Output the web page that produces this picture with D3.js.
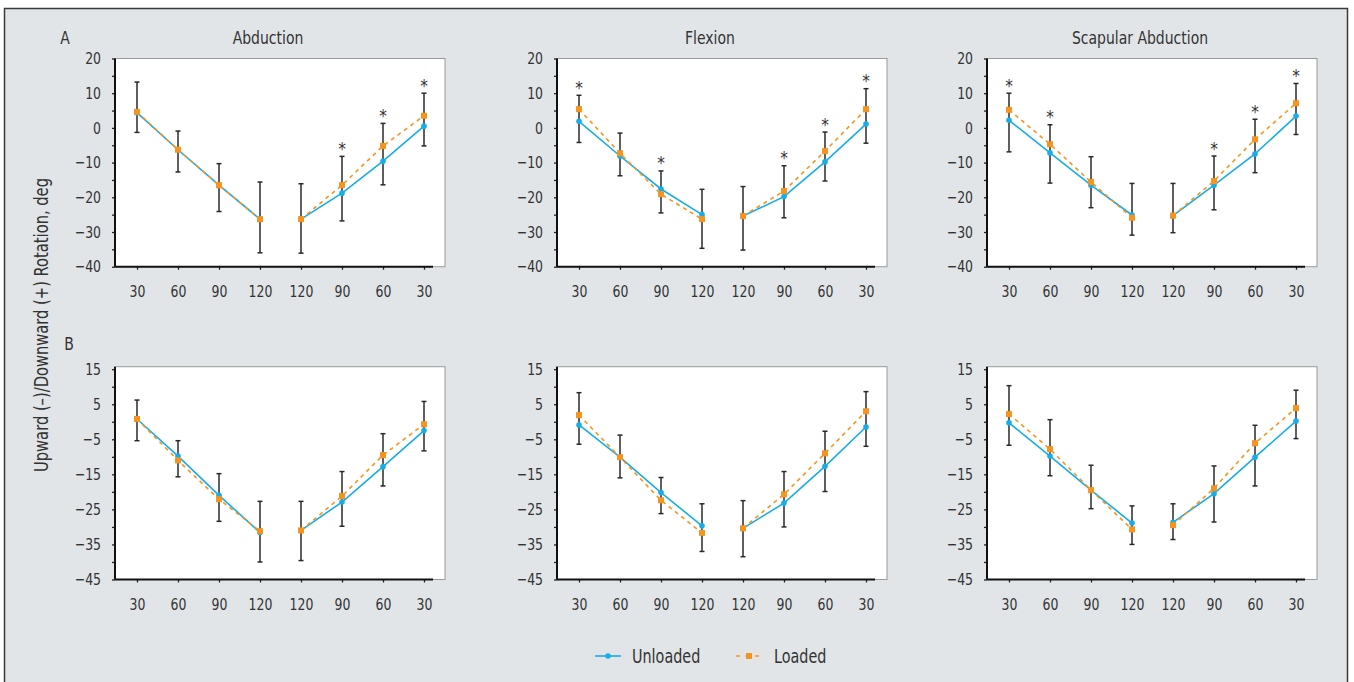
<!DOCTYPE html>
<html>
<head>
<meta charset="utf-8">
<script src="https://cdn.jsdelivr.net/npm/d3@7/dist/d3.min.js"></script>
<style>
  html, body { margin: 0; padding: 0; background: #ffffff; }
  svg { display: block; }
  text { font-family: "DejaVu Sans Condensed", "DejaVu Sans", sans-serif; fill: #333; }
</style>
</head>
<body>
<svg id="chart" width="1354" height="682"></svg>
<script>
// ---------- DATA ----------
const categories = ["30", "60", "90", "120", "120", "90", "60", "30"];
const titles = ["Abduction", "Flexion", "Scapular Abduction"];
const rowLabels = ["A", "B"];
const seriesNames = ["Unloaded", "Loaded"];

const ticksA = [20, 10, 0, -10, -20, -30, -40];
const minorTicksA = [15, 5, -5, -15, -25, -35];
const ticksB = [15, 5, -5, -15, -25, -35, -45];
const minorTicksB = [10, 0, -10, -20, -30, -40];

// Row A – Abduction
const unloadedA1 = [4.4, -6.3, -16.5, -26.3, -26.3, -18.8, -9.6, 0.5];
const loadedA1   = [4.6, -6.3, -16.5, -26.3, -26.3, -16.5, -5.2, 3.5];
const errHighA1  = [13.2, -0.9, -10.3, -15.6, -16.1, -8.2, 1.3, 10];
const errLowA1   = [-1.3, -12.7, -24.1, -36, -36.1, -26.8, -16.4, -5.2];
const starsA1    = [0, 0, 0, 0, 0, 1, 1, 1];
// Row A – Flexion
const unloadedA2 = [1.9, -8.1, -17.6, -25, -25.4, -19.8, -9.8, 1.1];
const loadedA2   = [5.4, -7.3, -19.1, -26.3, -25.4, -18.2, -6.7, 5.4];
const errHighA2  = [9.4, -1.5, -12.4, -17.7, -16.9, -10.9, -1.2, 11.3];
const errLowA2   = [-4.2, -13.8, -24.5, -34.7, -35.2, -25.9, -15.3, -4.4];
const starsA2    = [1, 0, 1, 0, 0, 1, 1, 1];
// Row A – Scapular Abduction
const unloadedA3 = [2.2, -7.2, -16.5, -25.1, -25.3, -16.5, -7.5, 3.4];
const loadedA3   = [5.2, -4.7, -15.6, -25.9, -25.3, -15.3, -3.3, 7.1];
const errHighA3  = [10, 0.9, -8.3, -16, -16, -8.1, 2.5, 12.8];
const errLowA3   = [-6.9, -15.9, -23, -30.9, -30.2, -23.6, -12.9, -1.9];
const starsA3    = [1, 1, 0, 0, 0, 1, 1, 1];
// Row B – Abduction
const unloadedB1 = [0.8, -9.8, -21, -31.6, -31, -22.9, -12.8, -2.5];
const loadedB1   = [0.8, -11, -22.1, -31.2, -31, -21.2, -9.5, -0.7];
const errHighB1  = [6.2, -5.4, -14.8, -22.7, -22.7, -14.2, -3.4, 5.8];
const errLowB1   = [-5.4, -15.7, -28.4, -40, -39.6, -29.8, -18.3, -8.3];
const starsB1    = [0, 0, 0, 0, 0, 0, 0, 0];
// Row B – Flexion
const unloadedB2 = [-0.9, -10.1, -20.2, -29.7, -30.4, -23.2, -12.7, -1.5];
const loadedB2   = [1.9, -10.1, -22.4, -31.7, -30.4, -20.7, -9, 3];
const errHighB2  = [8.3, -3.8, -15.9, -23.4, -22.5, -14.2, -2.7, 8.6];
const errLowB2   = [-6.4, -16, -26.2, -37, -38.5, -30, -19.9, -7];
const starsB2    = [0, 0, 0, 0, 0, 0, 0, 0];
// Row B – Scapular Abduction
const unloadedB3 = [-0.3, -9.8, -19.5, -28.9, -28.7, -20.5, -10.1, 0.2];
const loadedB3   = [2.2, -7.8, -19.5, -30.7, -29.5, -19, -6.1, 3.9];
const errHighB3  = [10.3, 0.6, -12.4, -24, -23.4, -12.6, -1, 9];
const errLowB3   = [-6.7, -15.4, -24.8, -35, -33.6, -28.6, -18.3, -4.8];
const starsB3    = [0, 0, 0, 0, 0, 0, 0, 0];

// ---------- LAYOUT / STYLE ----------
const BLUE = "#16ade8";
const ORANGE = "#f7941d";
const BAR = "#2a2a2a";
const panelLefts = [115, 557, 987];
const boxW = 330, axisLen = 318, ptOffset = 22, ptSpan = 287;
const rows = [
  { domain: [-40, 20], range: [266.7, 58.5], boxTop: 58.5, major: ticksA, minor: minorTicksA,
    panels: [
      [unloadedA1, loadedA1, errLowA1, errHighA1, starsA1],
      [unloadedA2, loadedA2, errLowA2, errHighA2, starsA2],
      [unloadedA3, loadedA3, errLowA3, errHighA3, starsA3]] },
  { domain: [-45, 15], range: [579.5, 369.2], boxTop: 366.7, major: ticksB, minor: minorTicksB,
    panels: [
      [unloadedB1, loadedB1, errLowB1, errHighB1, starsB1],
      [unloadedB2, loadedB2, errLowB2, errHighB2, starsB2],
      [unloadedB3, loadedB3, errLowB3, errHighB3, starsB3]] }
];

// condense text horizontally (emulates the narrow typeface of the original)
function condense(sel, k) {
  sel.each(function () {
    const len = this.getComputedTextLength();
    if (len > 0) d3.select(this).attr("textLength", len * k).attr("lengthAdjust", "spacingAndGlyphs");
  });
}
const K = 0.84;

const svg = d3.select("#chart");

// outer frame
svg.append("rect").attr("x", 4.5).attr("y", 8.5).attr("width", 1343).attr("height", 700)
  .attr("fill", "#e1e5e8").attr("stroke", "#3a3a3a").attr("stroke-width", 1.5);

// titles
titles.forEach((t, i) => {
  svg.append("text").attr("class", "lbl").attr("x", panelLefts[i] + boxW / 2 - 12).attr("y", 44)
    .attr("text-anchor", "middle").style("font-size", "18.5px").text(t);
});
svg.append("text").attr("class", "lbl").attr("x", 65).attr("y", 44).attr("text-anchor", "middle").style("font-size", "18.5px").text(rowLabels[0]);
svg.append("text").attr("class", "lbl").attr("x", 69).attr("y", 350).attr("text-anchor", "middle").style("font-size", "18.5px").text(rowLabels[1]);

// y axis title
svg.append("text").attr("transform", "translate(41,325) rotate(-90)")
  .attr("text-anchor", "middle").attr("dominant-baseline", "central")
  .attr("textLength", 294).attr("lengthAdjust", "spacingAndGlyphs")
  .style("font-size", "19px").text("Upward (\u2013)/Downward (+) Rotation, deg");

rows.forEach(row => {
  const y = d3.scaleLinear().domain(row.domain).range(row.range);
  const yBottom = y(row.domain[0]);
  row.panels.forEach((p, pi) => {
    const [unl, lod, lo, hi, st] = p;
    const left = panelLefts[pi];
    const x = d3.scalePoint().domain(d3.range(categories.length))
      .range([left + ptOffset, left + ptOffset + ptSpan]);
    const g = svg.append("g");

    // plot box
    g.append("rect").attr("x", left).attr("y", row.boxTop)
      .attr("width", boxW).attr("height", yBottom - row.boxTop)
      .attr("fill", "#ffffff").attr("stroke", "#9a9a9a").attr("stroke-width", 1);

    // y axis
    const yAxis = d3.axisLeft(y).tickValues(row.major).tickSize(3).tickPadding(11)
      .tickFormat(d3.format("d"));
    const ya = g.append("g").attr("transform", `translate(${left},0)`).call(yAxis);
    ya.select(".domain").remove();
    ya.selectAll(".tick line").attr("stroke", "#222").attr("stroke-width", 1.3);
    ya.selectAll(".tick text").attr("class", "lbl").style("font-size", "16.5px").style("font-family", null).attr("fill", "#333");
    const yMinor = d3.axisLeft(y).tickValues(row.minor).tickSize(3).tickFormat("");
    const ym = g.append("g").attr("transform", `translate(${left},0)`).call(yMinor);
    ym.select(".domain").remove();
    ym.selectAll(".tick line").attr("stroke", "#222").attr("stroke-width", 1.3);

    // x axis
    const xAxis = d3.axisBottom(x).tickSize(3).tickPadding(16).tickFormat(i => categories[i]);
    const xa = g.append("g").attr("transform", `translate(0,${yBottom})`).call(xAxis);
    xa.select(".domain").remove();
    xa.selectAll(".tick line").attr("stroke", "#222").attr("stroke-width", 1.3);
    xa.selectAll(".tick text").attr("class", "lbl").style("font-size", "16.5px").style("font-family", null).attr("fill", "#333");

    // axis lines
    g.append("line").attr("x1", left).attr("x2", left).attr("y1", row.boxTop).attr("y2", yBottom)
      .attr("stroke", "#111").attr("stroke-width", 2);
    g.append("line").attr("x1", left).attr("x2", left + axisLen).attr("y1", yBottom).attr("y2", yBottom)
      .attr("stroke", "#111").attr("stroke-width", 2);

    const idx = d3.range(categories.length);
    // error bars
    const eb = g.append("g").attr("stroke", BAR).attr("stroke-width", 1.5);
    idx.forEach(i => {
      eb.append("line").attr("x1", x(i)).attr("x2", x(i)).attr("y1", y(hi[i])).attr("y2", y(lo[i]));
      eb.append("line").attr("x1", x(i) - 2.5).attr("x2", x(i) + 2.5).attr("y1", y(hi[i])).attr("y2", y(hi[i]));
      eb.append("line").attr("x1", x(i) - 2.5).attr("x2", x(i) + 2.5).attr("y1", y(lo[i])).attr("y2", y(lo[i]));
    });

    // lines (gap between the two 120 positions)
    const segs = [[0, 1, 2, 3], [4, 5, 6, 7]];
    const line = vals => d3.line().x(i => x(i)).y(i => y(vals[i]));
    segs.forEach(s => {
      g.append("path").attr("d", line(unl)(s)).attr("fill", "none")
        .attr("stroke", BLUE).attr("stroke-width", 1.6);
    });
    g.selectAll(null).data(idx).enter().append("circle")
      .attr("cx", i => x(i)).attr("cy", i => y(unl[i])).attr("r", 2.8).attr("fill", BLUE);
    segs.forEach(s => {
      g.append("path").attr("d", line(lod)(s)).attr("fill", "none")
        .attr("stroke", ORANGE).attr("stroke-width", 1.6).attr("stroke-dasharray", "4,4");
    });
    g.selectAll(null).data(idx).enter().append("rect")
      .attr("x", i => x(i) - 3).attr("y", i => y(lod[i]) - 3).attr("width", 6).attr("height", 6)
      .attr("fill", ORANGE);

    // significance stars
    g.selectAll(null).data(idx.filter(i => st[i])).enter().append("text")
      .attr("x", i => x(i)).attr("y", i => y(hi[i]) - 1.5)
      .attr("text-anchor", "middle").style("font-size", "17px").style("fill", "#333").text("*");
  });
});

// legend
const lg = svg.append("g");
lg.append("line").attr("x1", 595).attr("x2", 621).attr("y1", 656).attr("y2", 656)
  .attr("stroke", BLUE).attr("stroke-width", 1.6);
lg.append("circle").attr("cx", 608).attr("cy", 656).attr("r", 2.8).attr("fill", BLUE);
lg.append("text").attr("class", "lbl").attr("x", 632).attr("y", 663).style("font-size", "19px").text(seriesNames[0]);
lg.append("line").attr("x1", 736).attr("x2", 763).attr("y1", 656).attr("y2", 656)
  .attr("stroke", ORANGE).attr("stroke-width", 1.6).attr("stroke-dasharray", "4,5.5");
lg.append("rect").attr("x", 746).attr("y", 653).attr("width", 6).attr("height", 6).attr("fill", ORANGE);
lg.append("text").attr("class", "lbl").attr("x", 774).attr("y", 663).style("font-size", "19px").text(seriesNames[1]);

condense(svg.selectAll("text.lbl"), K);
</script>
</body>
</html>
